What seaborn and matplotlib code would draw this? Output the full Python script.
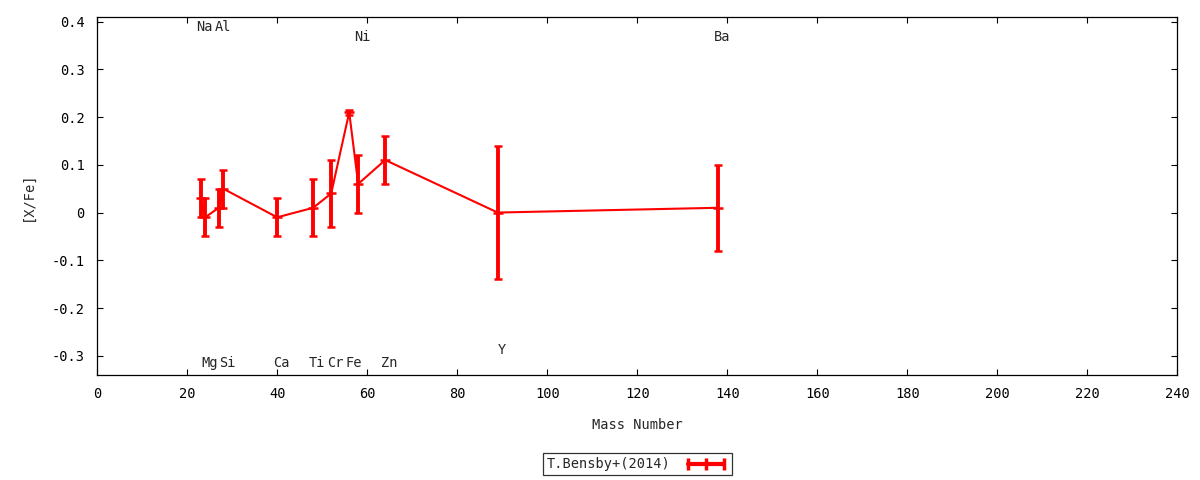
import numpy as np
import pandas as pd
import seaborn as sns
import matplotlib
matplotlib.use("Agg")
import matplotlib.pyplot as plt
from matplotlib.lines import Line2D

# T.Bensby+(2014) abundances vs mass number
mass = [23, 24, 27, 28, 40, 48, 52, 56, 58, 64, 89, 138]
xfe = [0.03, -0.01, 0.01, 0.05, -0.01, 0.01, 0.04, 0.21, 0.06, 0.11, 0.00, 0.01]
xfe_err = [0.04, 0.04, 0.04, 0.04, 0.04, 0.06, 0.07, 0.005, 0.06, 0.05, 0.14, 0.09]

# element labels (row: top / top2 / bottom / bottom2)
elements = ["Na", "Mg", "Al", "Si", "Ca", "Ti", "Cr", "Fe", "Ni", "Zn", "Y", "Ba"]
elem_mass = [23, 24, 27, 28, 40, 48, 52, 56, 58, 64, 89, 138]
elem_row = ["top", "bot", "top", "bot", "bot", "bot", "bot", "bot", "top2", "bot", "bot2", "top2"]
row_y = {"top": 0.388, "top2": 0.367, "bot": -0.316, "bot2": -0.288}

df = pd.DataFrame({"mass": mass, "xfe": xfe, "err": xfe_err})

sns.set_style("ticks")
plt.rcParams["font.family"] = ["DejaVu Sans Mono", "DejaVu Sans"]
plt.rcParams["font.size"] = 9.8

fig, ax = plt.subplots(figsize=(12, 4.8), dpi=100)
fig.subplots_adjust(left=0.081, right=0.981, bottom=0.219, top=0.965)

red = "#ff0000"
sns.lineplot(data=df, x="mass", y="xfe", color=red, linewidth=1.5, ax=ax,
             legend=False, zorder=3)
ax.errorbar(df["mass"], df["xfe"], yerr=df["err"], fmt="_", color=red,
            ecolor=red, elinewidth=2.8, capsize=3.2, capthick=1.8,
            markersize=6.5, mew=1.8, zorder=4)

for el, m, r in zip(elements, elem_mass, elem_row):
    ax.annotate(el, (m, row_y[r]), xytext=(3, 0), textcoords="offset points",
                ha="center", va="center")

ax.set_xlim(0, 240)
ax.set_ylim(-0.34, 0.41)
ax.set_xticks(np.arange(0, 241, 20))
ax.set_yticks(np.arange(-0.3, 0.41, 0.1))
ax.set_yticklabels(["-0.3", "-0.2", "-0.1", "0", "0.1", "0.2", "0.3", "0.4"])
ax.tick_params(direction="in", length=4, width=0.8, top=True, right=True,
               colors="black", labelsize=9.8)
ax.tick_params(axis="y", pad=9)
ax.tick_params(axis="x", pad=9)
for s in ax.spines.values():
    s.set_visible(True)
    s.set_color("black")
    s.set_linewidth(0.9)

ax.set_xlabel("Mass Number", labelpad=12)
ax.set_ylabel("[X/Fe]", labelpad=12)

handle = Line2D([], [], color=red, linewidth=3, marker="|", markersize=8,
                mew=2.5, label="T.Bensby+(2014)")
leg = ax.legend(handles=[handle], loc="center", bbox_to_anchor=(0.5, -0.25),
                markerfirst=False, frameon=True, fancybox=False, numpoints=3,
                handlelength=3.2, borderpad=0.3, handletextpad=1.0)
leg.get_frame().set_edgecolor("black")
leg.get_frame().set_linewidth(0.9)

fig.savefig("out.png", dpi=100)
